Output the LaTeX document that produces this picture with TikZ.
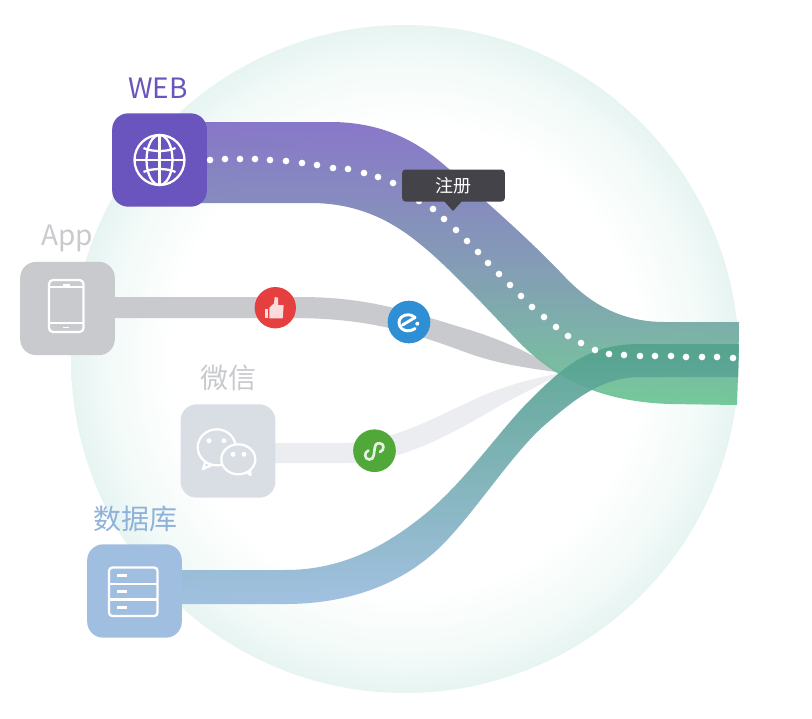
\documentclass[tikz,border=0pt]{standalone}
\usepackage{fontspec}
\setmainfont{Noto Sans CJK SC}
\definecolor{haloedge}{HTML}{E6F4F2}
\definecolor{halomid}{HTML}{F2FAF8}
\definecolor{webcol}{HTML}{6A54BD}
\definecolor{appcol}{HTML}{C8CACE}
\definecolor{wechatcol}{HTML}{D9DDE4}
\definecolor{wechatband}{HTML}{ECEDF1}
\definecolor{dbcol}{HTML}{A0BFE0}
\definecolor{dbtext}{HTML}{8FB2DA}
\definecolor{webtop}{HTML}{7F6CC5}
\definecolor{webmid}{HTML}{7A94B0}
\definecolor{webbottom}{HTML}{6AC592}
\definecolor{dbtop}{HTML}{52A28C}
\definecolor{dbmid}{HTML}{78AEB4}
\definecolor{dbbottom}{HTML}{9BBCDF}
\definecolor{likecol}{HTML}{E5403F}
\definecolor{likehand}{HTML}{FBDCDC}
\definecolor{elemecol}{HTML}{2E8FD5}
\definecolor{minicol}{HTML}{4FA838}
\definecolor{tipcol}{HTML}{434349}
\pgfdeclareradialshading{halo}{\pgfpoint{0bp}{0bp}}{color(0bp)=(white); color(17.5bp)=(white); color(22.5bp)=(halomid); color(25bp)=(haloedge); color(50bp)=(haloedge)}
\pgfdeclareverticalshading{webband}{100bp}{color(0bp)=(webbottom); color(25bp)=(webbottom); color(50bp)=(webmid); color(75bp)=(webtop); color(100bp)=(webtop)}
\pgfdeclareverticalshading{dbband}{100bp}{color(0bp)=(dbbottom); color(25bp)=(dbbottom); color(50bp)=(dbmid); color(75bp)=(dbtop); color(100bp)=(dbtop)}
\tikzset{
    iconbox/.style={rounded corners=12pt, minimum width=71pt, minimum height=70pt, inner sep=0pt},
    iconline/.style={draw=white, line width=1.7pt, line join=round},
    namelabel/.style={font=\fontsize{21}{24}\selectfont},
    badge/.style={circle, minimum size=31pt, inner sep=0pt},
    flowdot/.style={circle, fill=white, minimum size=5pt, inner sep=0pt}
}
\begin{document}
\begin{tikzpicture}[x=0.75pt, y=-0.75pt]
    \useasboundingbox (0,0) rectangle (812,718);
    \shade[shading=halo] (405,359) circle (334);

    % bands
    \fill[appcol] (110,297) -- (300,297) .. controls (370,297) and (410,312) .. (470,330) .. controls (505,341) and (535,355) .. (562,373) .. controls (530,368) and (500,365) .. (465,352) .. controls (410,332) and (370,318) .. (290,318) -- (110,318) -- cycle;
    \fill[wechatband] (270,443) -- (347,443) .. controls (390,442) and (430,420) .. (473,400) .. controls (505,385) and (535,378) .. (562,373) .. controls (545,382) and (530,390) .. (510,400) .. controls (470,422) and (410,463) .. (347,463) -- (270,463) -- cycle;
    \shade[shading=webband, opacity=.92] (200,122) -- (330,122) .. controls (385,122) and (420,143) .. (450,170) .. controls (490,205) and (530,240) .. (565,277) .. controls (590,303) and (620,322) .. (665,322) -- (739,322) -- (738.5,360) -- (737,405) -- (670,404) .. controls (610,402) and (560,385) .. (517,340) .. controls (490,312) and (450,268) .. (420,244) .. controls (385,215) and (350,203) .. (310,203) -- (200,203) -- cycle;
    \shade[shading=dbband, opacity=.92] (175,570) -- (285,570) .. controls (340,570) and (385,548) .. (430,510) .. controls (470,475) and (500,430) .. (530,400) .. controls (565,365) and (590,344) .. (640,344) -- (739,344) -- (738,377) -- (640,377) .. controls (600,377) and (572,402) .. (547,423) .. controls (515,450) and (480,505) .. (447,540) .. controls (410,580) and (355,604) .. (285,604) -- (175,604) -- cycle;

    \foreach \Point [count=\i] in {(210,160), (225,159), (240,159), (255,159), (270,160), (286,161), (302,163), (317,165), (333,168), (348,169), (364,173), (378,177), (393,183), (406,190), (419,201), (433,209), (444,219), (456,230), (467,241), (478,252), (488,263), (499,274), (510,285), (521,296), (532,307), (544,317), (556,327), (568,336), (581,343), (595,350), (609,354), (624,355), (640,356), (655,356), (671,356), (686,357), (702,357), (717,357), (733,358)}{
        \node[flowdot] (dot\i) at \Point {};
    }

    % sources
    \node[iconbox, fill=webcol] (web) at (159.5,160) {};
    \node[iconbox, fill=appcol] (app) at (67.5,308.5) {};
    \node[iconbox, fill=wechatcol] (wechat) at (228,451) {};
    \node[iconbox, fill=dbcol] (db) at (134.5,591) {};
    \node[namelabel, text=webcol] (weblabel) at (158,88) {WEB};
    \node[namelabel, text=appcol] (applabel) at (67,238) {App};
    \node[namelabel, text=appcol] (wechatlabel) at (228,378) {微信};
    \node[namelabel, text=dbtext] (dblabel) at (135,519) {数据库};

    % globe
    \draw[iconline] (159.5,160) circle (25);
    \draw[iconline] (159.5,160) ellipse (13 and 25);
    \draw[iconline] (159.5,135) -- (159.5,185);
    \draw[iconline] (134.5,160) -- (184.5,160);
    \draw[iconline] (143.5,148) .. controls (152,152) and (167,152) .. (175.5,148);
    \draw[iconline] (143.5,172) .. controls (152,168) and (167,168) .. (175.5,172);

    % phone
    \draw[iconline, rounded corners=3pt] (49,280) rectangle (83.5,332);
    \draw[iconline, line width=1.2pt] (49,287) -- (83.5,287);
    \draw[iconline, line width=1.2pt] (49,323) -- (83.5,323);
    \draw[iconline, line width=1pt] (63,285) -- (70,285);
    \draw[iconline, line width=1pt] (63,327.5) -- (69,327.5);

    % chat bubbles
    \draw[iconline, fill=wechatcol] (206,460) -- (203,469) -- (214,464);
    \draw[iconline, fill=wechatcol] (216.7,447.3) ellipse (19 and 18);
    \draw[iconline, fill=wechatcol] (245,471) -- (250.5,475) -- (249.5,467);
    \draw[iconline, fill=wechatcol] (238.3,459.3) ellipse (17 and 15);
    \foreach \Point in {(209,440.7), (224,440.7), (233,454.3), (244,454.3)}{
        \fill[white] \Point circle (2.5);
    }

    % server
    \draw[iconline, rounded corners=2.5pt] (109,567.5) rectangle (157.5,616);
    \draw[iconline] (109,584) -- (157.5,584);
    \draw[iconline] (109,599.5) -- (157.5,599.5);
    \foreach \Point in {575.5, 591.5, 607.5}{
        \draw[iconline] (117,\Point) -- (126.5,\Point);
    }

    % badges
    \node[badge, fill=likecol] (like) at (275.3,307.7) {};
    \fill[likehand] (269.3,307.7) -- (274,303.3) -- (274.7,297) -- (278,297.7) -- (278,305) -- (283.7,305) -- (282.7,318.3) -- (269.3,318.3) -- cycle;
    \fill[likehand] (264.7,309) rectangle (268,318.3);
    \node[badge, fill=elemecol, minimum size=32pt] (eleme) at (409,322) {};
    \draw[iconline, line width=2.2pt, line cap=round] (402.5,325) -- (415,317.5) .. controls (412.5,315.5) and (410.5,314.7) .. (408.3,314.7) .. controls (403,314.7) and (399,318) .. (399,322.5) .. controls (399,327.5) and (403,330.8) .. (407.7,330.8) .. controls (410.5,330.8) and (413,330) .. (415,328.5);
    \fill[white] (417.3,323.7) circle (2);
    \node[badge, fill=minicol, minimum size=32pt] (mini) at (374.5,450.7) {};
    \draw[iconline, draw=white!85!minicol, line width=2pt, line cap=round] (380,452) .. controls (385,450) and (384.5,443) .. (379.3,443.2) .. controls (376,443.2) and (374.8,445.5) .. (374.8,447.7) -- (373.8,455) .. controls (373.8,458) and (371.5,459.5) .. (369.3,459.5) .. controls (364.5,459.5) and (363.5,452) .. (368.5,450.5);

    % tooltip
    \fill[tipcol] (443,200) -- (453,211) -- (463,200) -- cycle;
    \node[fill=tipcol, rounded corners=2.5pt, minimum width=77pt, minimum height=24pt, inner sep=0pt, text=white, font=\fontsize{13.5}{15}\selectfont] (tip) at (453.5,185.5) {注册};
\end{tikzpicture}
\end{document}
